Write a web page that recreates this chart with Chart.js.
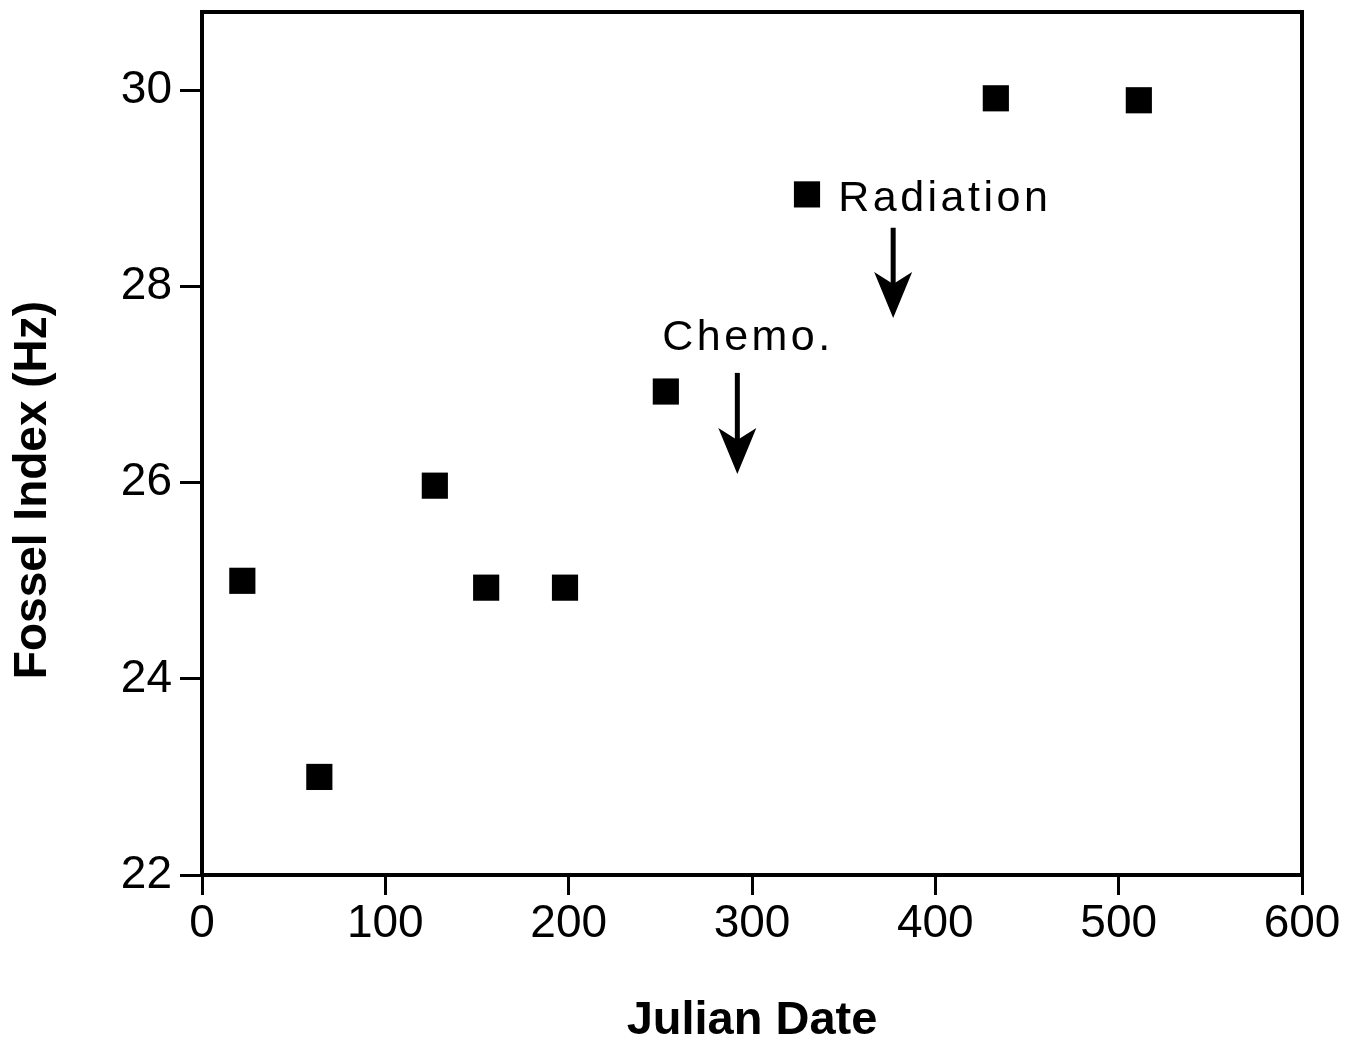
<!DOCTYPE html>
<html>
<head>
<meta charset="utf-8">
<script src="https://cdn.jsdelivr.net/npm/chart.js@4.4.1/dist/chart.umd.min.js"></script>
<style>
  html, body { margin: 0; padding: 0; background: #fff; }
  #wrap { width: 1364px; height: 1047px; position: relative; }
</style>
</head>
<body>
<div id="wrap"><canvas id="c" width="1364" height="1047"></canvas></div>
<script>
// ---- data ----
const julianDate  = [22, 64, 127, 155, 198, 253, 330, 433, 511];
const fosselIndex = [25.0, 23.0, 25.97, 24.93, 24.93, 26.93, 28.94, 29.92, 29.9];
const xTickValues = [0, 100, 200, 300, 400, 500, 600];
const yTickValues = [22, 24, 26, 28, 30];
const xTitle = 'Julian Date';
const yTitle = 'Fossel Index (Hz)';
// annotation labels: text, label anchor (x,y), arrow x, arrow from y, arrow to y
const noteText   = ['Radiation', 'Chemo.'];
const noteX      = [347, 251];
const noteY      = [28.89, 27.47];
const arrowX     = [377, 292];
const arrowFromY = [28.6, 27.12];
const arrowToY   = [27.68, 26.09];

const FONT = "'Liberation Sans', Arial, Helvetica, sans-serif";

const framePlugin = {
  id: 'frame',
  afterDraw(chart) {
    const {ctx, chartArea: a, scales: {x, y}} = chart;
    ctx.save();
    ctx.strokeStyle = '#000';
    ctx.lineWidth = 4;
    ctx.lineCap = 'square';
    ctx.beginPath();
    ctx.moveTo(a.left, a.top);
    ctx.lineTo(a.right, a.top);
    ctx.lineTo(a.right, a.bottom);
    ctx.stroke();

    // y-axis title (placed as in the reference, below the plot centre)
    ctx.save();
    ctx.translate(33, 490);
    ctx.rotate(-Math.PI / 2);
    ctx.font = 'bold 46px ' + FONT;
    ctx.textAlign = 'center';
    ctx.textBaseline = 'middle';
    ctx.fillStyle = '#000';
    ctx.fillText(yTitle, 0, 0);
    ctx.restore();

    // annotations
    ctx.fillStyle = '#000';
    ctx.font = '43px ' + FONT;
    ctx.letterSpacing = '3.5px';
    ctx.textBaseline = 'middle';
    ctx.textAlign = 'left';
    for (let i = 0; i < noteText.length; i++) {
      ctx.fillText(noteText[i], x.getPixelForValue(noteX[i]), y.getPixelForValue(noteY[i]));
      const ax = x.getPixelForValue(arrowX[i]);
      const y0 = y.getPixelForValue(arrowFromY[i]);
      const y1 = y.getPixelForValue(arrowToY[i]);
      const headLen = 46, headHalf = 19, notch = 12;
      ctx.lineWidth = 5;
      ctx.lineCap = 'butt';
      ctx.beginPath();
      ctx.moveTo(ax, y0);
      ctx.lineTo(ax, y1 - headLen + notch + 2);
      ctx.stroke();
      ctx.beginPath();
      ctx.moveTo(ax, y1);
      ctx.lineTo(ax - headHalf, y1 - headLen);
      ctx.lineTo(ax, y1 - headLen + notch);
      ctx.lineTo(ax + headHalf, y1 - headLen);
      ctx.closePath();
      ctx.fill();
    }
    ctx.restore();
  }
};

new Chart(document.getElementById('c'), {
  type: 'scatter',
  data: {
    datasets: [{
      data: julianDate.map((d, i) => ({x: d, y: fosselIndex[i]})),
      pointStyle: 'rect',
      pointRadius: 18.5,
      pointHoverRadius: 18.5,
      backgroundColor: '#000',
      borderColor: '#000',
      borderWidth: 0
    }]
  },
  options: {
    responsive: false,
    animation: false,
    devicePixelRatio: 1,
    layout: { autoPadding: false, padding: { top: 12, right: 62, left: 0, bottom: 0 } },
    plugins: { legend: { display: false }, tooltip: { enabled: false } },
    scales: {
      x: {
        type: 'linear',
        min: 0, max: 600,
        afterFit(s) { s.height = 172; s.paddingLeft = 0; s.paddingRight = 0; },
        afterBuildTicks(s) { s.ticks = xTickValues.map(v => ({value: v})); },
        grid: { drawOnChartArea: false, color: '#000', tickLength: 20, tickWidth: 3 },
        border: { color: '#000', width: 4 },
        ticks: { color: '#000', font: { family: FONT, size: 46 }, padding: 2, maxRotation: 0 },
        title: { display: true, text: xTitle, color: '#000',
                 font: { family: FONT, size: 47, weight: 'bold', lineHeight: 1 },
                 padding: { top: 0, bottom: 2 } }
      },
      y: {
        type: 'linear',
        min: 22, max: 30.8,
        afterFit(s) { s.width = 202; s.paddingTop = 0; s.paddingBottom = 0; },
        afterBuildTicks(s) { s.ticks = yTickValues.map(v => ({value: v})); },
        grid: { drawOnChartArea: false, color: '#000', tickLength: 22, tickWidth: 3 },
        border: { color: '#000', width: 4 },
        ticks: { color: '#000', font: { family: FONT, size: 46 }, padding: 8 },
        title: { display: false, text: yTitle }
      }
    }
  },
  plugins: [framePlugin]
});
</script>
</body>
</html>
